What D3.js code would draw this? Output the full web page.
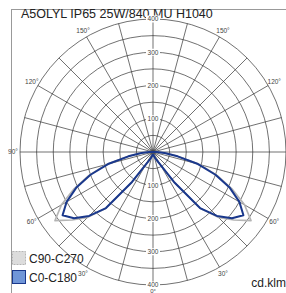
<!DOCTYPE html>
<html>
<head>
<meta charset="utf-8">
<script src="https://cdn.jsdelivr.net/npm/d3@7"></script>
<style>
body{margin:0;background:#fff}
text{font-family:"Liberation Sans",Arial,sans-serif}
</style>
</head>
<body>
<div></div>
<script>
// data (cd/klm), angle measured from nadir
const angles = [0,5,10,15,20,25,30,35,40,45,50,55,60,65,70,75,80,85,90]
const c0c180 = [8,8,10,14,20,28,45,110,220,272,310,332,300,255,200,140,75,35,12]
const c90c270 = [8,8,10,14,20,28,45,110,222,278,318,360,318,262,205,145,78,36,12]
const ringValues = [50,100,150,200,250,300,350,400]
const ringLabels = [100,200,300,400]
const angleLabels = [30,60,90,120,150]
const title = "A5OLYL IP65 25W/840 MU H1040"
const legendNames = ["C90-C270","C0-C180"]

const W = 286, H = 293
const cx = 153, cy = 152
const svg = d3.select("div").append("svg").attr("width",W).attr("height",H)

const r = d3.scaleLinear().domain([0,400]).range([0,133])
const rad = d => d*Math.PI/180

function translate(x,y){return `translate(${x}, ${y})`}

// frame
svg.append("rect").attr("x",11.5).attr("y",9.5).attr("width",300).attr("height",300)
    .attr("fill","none").attr("stroke","#999")

svg.append("text").attr("x",21).attr("y",18).attr("font-size",12.5).attr("fill","#222").text(title)

const g = svg.append("g").attr("transform",translate(cx,cy))

// rings
g.selectAll("circle.ring").data(ringValues).join("circle").attr("class","ring")
    .attr("r",d=>r(d)).attr("fill","none").attr("stroke","#333").attr("stroke-width",0.7)

// spokes every 15 deg
const spokes = d3.range(0,360,15)
g.selectAll("line.spoke").data(spokes).join("line").attr("class","spoke")
    .attr("x1",0).attr("y1",0)
    .attr("x2",d=>r(400)*Math.sin(rad(d))).attr("y2",d=>r(400)*Math.cos(rad(d)))
    .attr("stroke","#333").attr("stroke-width",0.7)

// curves: build from left 90 -> 0 -> right 90
function curvePoints(vals){
    const pts = []
    for(let i=angles.length-1;i>=0;i--) pts.push([Math.PI+rad(angles[i]), r(vals[i])])
    for(let i=1;i<angles.length;i++) pts.push([Math.PI-rad(angles[i]), r(vals[i])])
    pts.push([0,0])
    return pts
}
const line = d3.lineRadial().angle(d=>d[0]).radius(d=>d[1]).curve(d3.curveLinearClosed)

g.append("path").attr("d",line(curvePoints(c90c270))).attr("fill","none")
    .attr("stroke","#b4b4b4").attr("stroke-width",1.6).attr("stroke-linejoin","round")
g.append("path").attr("d",line(curvePoints(c0c180))).attr("fill","none")
    .attr("stroke","#1a388c").attr("stroke-width",2).attr("stroke-linejoin","round")

// ring labels on vertical axis
const lab = g.selectAll("g.rl").data(ringLabels.flatMap(v=>[{v,s:-1},{v,s:1}])).join("g").attr("class","rl")
    .attr("transform",d=>translate(0,d.s*r(d.v)))
lab.append("rect").attr("x",-7).attr("y",-3.5).attr("width",14).attr("height",7).attr("fill","#fff")
lab.append("text").attr("text-anchor","middle").attr("dy","0.35em").attr("font-size",6.5).attr("fill","#444").text(d=>d.v)

// angle labels (right 90° lies outside the frame)
const al = angleLabels.flatMap(a=>[{a,s:1},{a,s:-1}]).filter(d=>!(d.a===90&&d.s===1))
g.selectAll("text.al").data(al).join("text").attr("class","al")
    .attr("x",d=>d.s*140*Math.sin(rad(d.a))).attr("y",d=>140*Math.cos(rad(d.a)))
    .attr("text-anchor","middle").attr("dy","0.35em").attr("font-size",6.5).attr("fill","#444")
    .text(d=>d.a+"°")
g.append("text").attr("x",0).attr("y",140.5).attr("text-anchor","middle").attr("font-size",6).attr("fill","#444").text("0°")

// legend
const leg = svg.append("g")
leg.append("rect").attr("x",12.5).attr("y",251.5).attr("width",13).attr("height",13)
    .attr("fill","#dcdcdc").attr("stroke","#b4b4b4").attr("stroke-dasharray","2,1")
leg.append("rect").attr("x",12.5).attr("y",270.5).attr("width",13).attr("height",13)
    .attr("fill","#7096d8").attr("stroke","#1a388c")
leg.selectAll("text").data(legendNames).join("text").attr("x",29).attr("y",(d,i)=>263+i*19)
    .attr("font-size",12).attr("fill","#222").text(d=>d)

svg.append("text").attr("x",286).attr("y",287).attr("text-anchor","end").attr("font-size",12).attr("fill","#222").text("cd.klm")
</script>
</body>
</html>
